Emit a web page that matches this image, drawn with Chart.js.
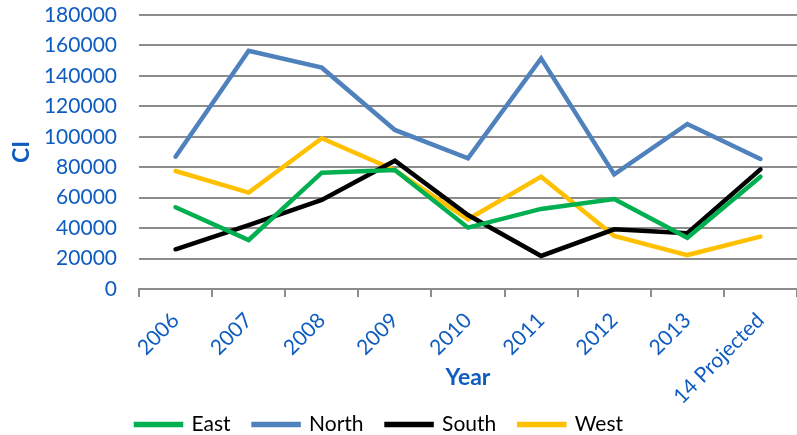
<!DOCTYPE html>
<html>
<head>
<meta charset="utf-8">
<script src="https://cdn.jsdelivr.net/npm/chart.js@4"></script>
<style>
  html, body { margin: 0; padding: 0; background: #fff; }
  #wrap { width: 797px; height: 435px; }
</style>
</head>
<body>
<div id="wrap"><canvas id="lineChart" width="797" height="435"></canvas></div>
<script>
  const years = ["2006", "2007", "2008", "2009", "2010", "2011", "2012", "2013", "14 Projected"];
  const east  = [53700, 32200, 76400, 78200, 40300, 52600, 59100, 33700, 73800];
  const north = [86900, 156500, 145400, 104500, 85900, 151500, 75300, 108400, 85400];
  const south = [26100, 42000, 58500, 84300, 48600, 21700, 39200, 36600, 78600];
  const west  = [77500, 63300, 99000, 78000, 45800, 73800, 34800, 22300, 34400];

  const blue = "#0f5cc0";
  const gridGray = "#8c8c8c";
  const ctx = document.getElementById("lineChart");

  function series(label, data, color) {
    return {
      label: label,
      data: data,
      borderColor: color,
      backgroundColor: color,
      borderWidth: 4.5,
      borderCapStyle: "round",
      pointRadius: 0,
      tension: 0
    };
  }

  // tighten the legend a bit so it sits lower, like the excel original
  const legendTweak = {
    id: "legendTweak",
    beforeInit(chart) {
      const fit = chart.legend.fit;
      chart.legend.fit = function () {
        fit.call(this);
        this.height -= 10;
      };
    },
    afterLayout(chart) {
      chart.legend.right -= 38;
    }
  };

  new Chart(ctx, {
    type: "line",
    data: {
      labels: years,
      datasets: [
        series("East", east, "#00b050"),
        series("North", north, "#4f81bd"),
        series("South", south, "#000000"),
        series("West", west, "#ffc000")
      ]
    },
    options: {
      responsive: false,
      animation: false,
      layout: { padding: { top: 15, right: 0, left: 0, bottom: 0 } },
      plugins: {
        legend: {
          position: "bottom",
          labels: {
            color: "#000",
            font: { family: "Lato", size: 21 },
            boxWidth: 45,
            boxHeight: 1,
            padding: 23
          }
        },
        tooltip: { enabled: false }
      },
      scales: {
        y: {
          min: 0,
          max: 180000,
          afterFit: scale => {
            scale.width = 139;
            scale.paddingTop = 0;
          },
          ticks: {
            stepSize: 20000,
            autoSkip: false,
            color: blue,
            font: { family: "Lato", size: 21 },
            padding: 22,
            callback: v => String(v)
          },
          border: { display: false },
          grid: { color: gridGray, lineWidth: 2, drawTicks: false },
          title: {
            display: true,
            text: "CI",
            color: blue,
            font: { family: "Lato", size: 23, weight: "bold" },
            padding: { top: 8, bottom: 0 }
          }
        },
        x: {
          offset: true,
          afterFit: scale => {
            scale.height = 102;
            // let the long rotated label run past the axis box, as in the original
            scale._computeLabelArea = function () {
              return { top: this.top, left: 0, bottom: this.chart.height, right: this.chart.width };
            };
          },
          ticks: {
            color: blue,
            font: { family: "Lato", size: 21 },
            autoSkip: false,
            minRotation: 45,
            maxRotation: 45,
            padding: 11
          },
          border: { color: gridGray, width: 2 },
          grid: {
            offset: true,
            drawOnChartArea: false,
            color: gridGray,
            lineWidth: 2,
            tickLength: 8
          },
          title: {
            display: true,
            text: "Year",
            color: blue,
            font: { family: "Lato", size: 23, weight: "bold" },
            padding: { top: 0, bottom: 0 }
          }
        }
      }
    },
    plugins: [legendTweak]
  });
</script>
</body>
</html>
